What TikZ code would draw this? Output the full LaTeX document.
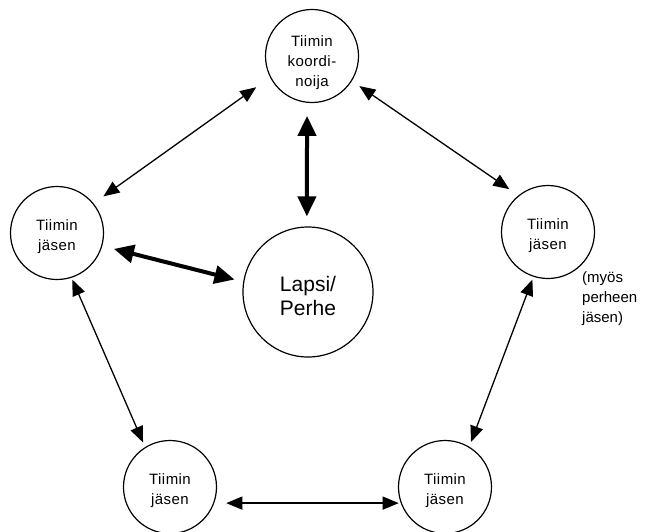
\documentclass[tikz,border=0pt]{standalone}
\usepackage{fontspec}
\setmainfont{Liberation Sans}
\usetikzlibrary{arrows.meta}
\newcommand{\ylos}[1]{\rule{0pt}{#1}}

\begin{document}
\begin{tikzpicture}[x=1pt,y=-1pt,
  member/.style={circle,draw,line width=1.2pt,minimum size=93pt,inner sep=0pt,
    align=center,font=\fontsize{15}{20}\selectfont\addfontfeature{LetterSpace=3}},
  link/.style={line width=1.3pt,{Triangle[length=16pt,width=13pt]}-{Triangle[length=16pt,width=13pt]}},
  strong/.style={line width=4pt,{Triangle[length=20pt,width=18pt]}-{Triangle[length=20pt,width=18pt]}}]
  \useasboundingbox (0,0) rectangle (646,531);
  % Circles
  \node[member] (koord) at (312,56) {\ylos{25pt}Tiimin\\koordi-\\noija};
  \node[member] (jasenV) at (57,233) {\ylos{19pt}Tiimin\\jäsen};
  \node[member] (jasenO) at (548,232) {\ylos{19pt}Tiimin\\jäsen};
  \node[member] (jasenAV) at (170,487) {\ylos{19pt}Tiimin\\jäsen};
  \node[member] (jasenAO) at (445,487) {\ylos{19pt}Tiimin\\jäsen};
  \node[member,minimum size=130pt,font=\fontsize{21}{24}\selectfont] (lapsi) at (308,292) {\ylos{24pt}Lapsi/\\Perhe};
  \node[anchor=north west,align=left,inner sep=0pt,font=\fontsize{15}{20}\selectfont] (huom) at (582,271) {(myös\\perheen\\jäsen)};
  % Team links
  \draw[link,shorten <=12pt,shorten >=17pt] (jasenV.39) -- (koord.207);
  \draw[link,shorten <=9pt,shorten >=11pt] (koord.328) -- (jasenO.129);
  \draw[link,shorten <=2pt,shorten >=5pt] (jasenV.288) -- (jasenAV.122);
  \draw[link,shorten <=3pt,shorten >=5pt] (jasenO.252) -- (jasenAO.59);
  \draw[link,shorten <=12pt,shorten >=2pt] (jasenAV.340) -- (jasenAO.200);
  % Links to the child
  \draw[strong,shorten <=13pt,shorten >=10pt] (koord.264) -- (lapsi.91);
  \draw[strong,shorten <=12pt,shorten >=9pt] (jasenV.344) -- (lapsi.171);
\end{tikzpicture}
\end{document}
